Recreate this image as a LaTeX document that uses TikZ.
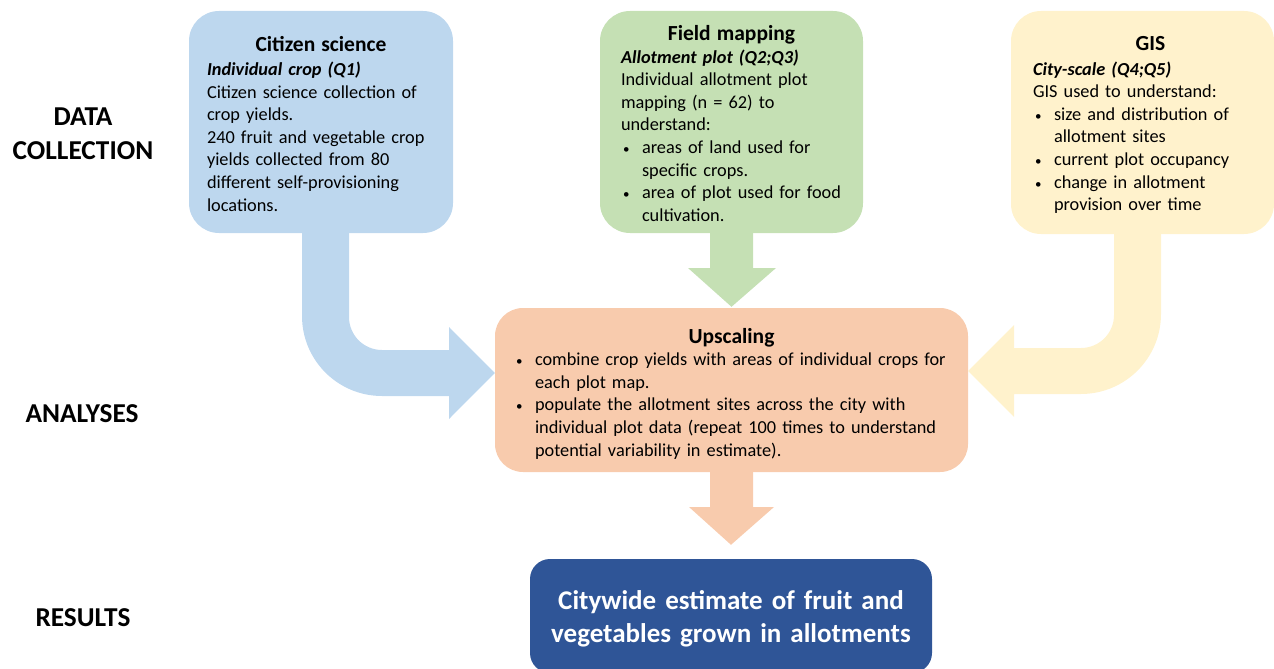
\documentclass[tikz,border=0pt]{standalone}
\usepackage{fontspec}
\setmainfont{Carlito}

\definecolor{citblue}{HTML}{BDD7EE}
\definecolor{fieldgreen}{HTML}{C5E0B4}
\definecolor{gisyellow}{HTML}{FFF2CC}
\definecolor{uporange}{HTML}{F8CBAD}
\definecolor{resblue}{HTML}{2F5597}

\newcommand{\bul}{\par\hangindent=21pt\hangafter=1\noindent
  \makebox[21pt][l]{\hspace{2pt}{\fontsize{13}{13}\selectfont\textbullet}}}
% gap below the title, title
\newcommand{\boxtitle}[2]{{\centering\fontsize{21.5}{25}\selectfont\bfseries #2\par}\vspace{#1}}
% pushes the text down
\newcommand{\boxend}[1]{\par\vspace{-#1}\nointerlineskip\null}

\begin{document}
\begin{tikzpicture}[x=1pt, y=-1pt,
  box/.style={rounded corners=30pt, align=left, inner ysep=0pt,
    font=\fontsize{18.3}{22.6}\selectfont},
  stage/.style={font=\bfseries\fontsize{27.3}{34}\selectfont, align=center}]

\useasboundingbox (0,0) rectangle (1274,669);

%%%%%%%%%%%%%%%%%%%%%%%%%%%%%%%
\node[stage] (collect) at (83,134) {DATA\\ COLLECTION};
\node[stage] (analyse) at (82,414) {ANALYSES};
\node[stage] (result) at (83,618) {RESULTS};

%%%%%%%%%%%%%%%%%%%%%%%%%%%%%%%
\node[box, fill=citblue, inner xsep=18pt, text width=228pt, minimum height=222pt]
 (cit) at (321,122) {\boxtitle{1.5pt}{Citizen science}
 \textbf{\textit{Individual crop (Q1)}}\\
 Citizen science collection of\\ crop yields.\\
 240 fruit and vegetable crop\\ yields collected from 80\\
 different self-provisioning\\ locations.\boxend{3.5pt}};

\node[box, fill=fieldgreen, inner xsep=21pt, text width=221pt, minimum height=222pt]
 (field) at (731.5,122) {\boxtitle{0.5pt}{Field mapping}
 \textbf{\textit{Allotment plot (Q2;Q3)}}\\
 Individual allotment plot\\ mapping (n = 62) to\\ understand:
 \bul areas of land used for\newline specific crops.
 \bul area of plot used for food\newline cultivation.\boxend{2.5pt}};

\node[box, fill=gisyellow, inner xsep=22pt, text width=219pt, minimum height=223pt]
 (gis) at (1142.5,122.5) {\boxtitle{1.5pt}{\hspace*{16pt}GIS}
 \textbf{\textit{City-scale (Q4;Q5)}}\\
 GIS used to understand:
 \bul size and distribution of\newline allotment sites
 \bul current plot occupancy
 \bul change in allotment\newline provision over time\boxend{5.5pt}};

%%%%%%%%%%%%%%%%%%%%%%%%%%%%%%%
\node[box, fill=uporange, rounded corners=28pt, inner xsep=19pt, text width=435pt,
 minimum height=164pt] (up) at (731.5,390) {\boxtitle{-0.5pt}{Upscaling}
 \bul combine crop yields with areas of individual crops for\newline each plot map.
 \bul populate the allotment sites across the city with\newline individual plot data
 (repeat 100 times to understand\newline potential variability in estimate).\boxend{7.5pt}};

\node[box, fill=resblue, rounded corners=20pt, align=center, text width=402pt,
 inner xsep=0pt, minimum height=114pt, text=white,
 font=\bfseries\fontsize{27}{33}\selectfont] (res) at (731,616)
 {Citywide estimate of fruit and\\ vegetables grown in allotments\boxend{5pt}};

%%%%%%%%%%%%%%%%%%%%%%%%%%%%%%%
\fill[citblue] ([xshift=-19pt,yshift=8pt]cit.south) -- (302,316)
 arc[start angle=180, end angle=90, radius=80]
 -- (449,396) -- (449,419) -- ([yshift=17pt]up.west) -- (449,327) -- (449,350)
 -- (382,350) arc[start angle=90, end angle=180, radius=33] -- (349,225) -- cycle;

\fill[gisyellow] ([xshift=18.5pt,yshift=8.5pt]gis.south) -- (1161,314)
 arc[start angle=0, end angle=90, radius=80]
 -- (1014,394) -- (1014,417) -- ([yshift=19pt]up.east) -- (1014,325) -- (1014,348)
 -- (1081,348) arc[start angle=90, end angle=0, radius=33] -- (1114,225) -- cycle;

\fill[fieldgreen] ([xshift=-21.5pt,yshift=8pt]field.south) -- (710,268) -- (688,268)
 -- ([yshift=1pt]up.north) -- (776,268) -- (753,268) -- (753,225) -- cycle;

\fill[uporange] ([xshift=-21.5pt,yshift=7pt]up.south) -- (710,507) -- (689,507)
 -- ([yshift=14pt]res.north) -- (774,507) -- (753,507) -- (753,465) -- cycle;

\end{tikzpicture}
\end{document}
